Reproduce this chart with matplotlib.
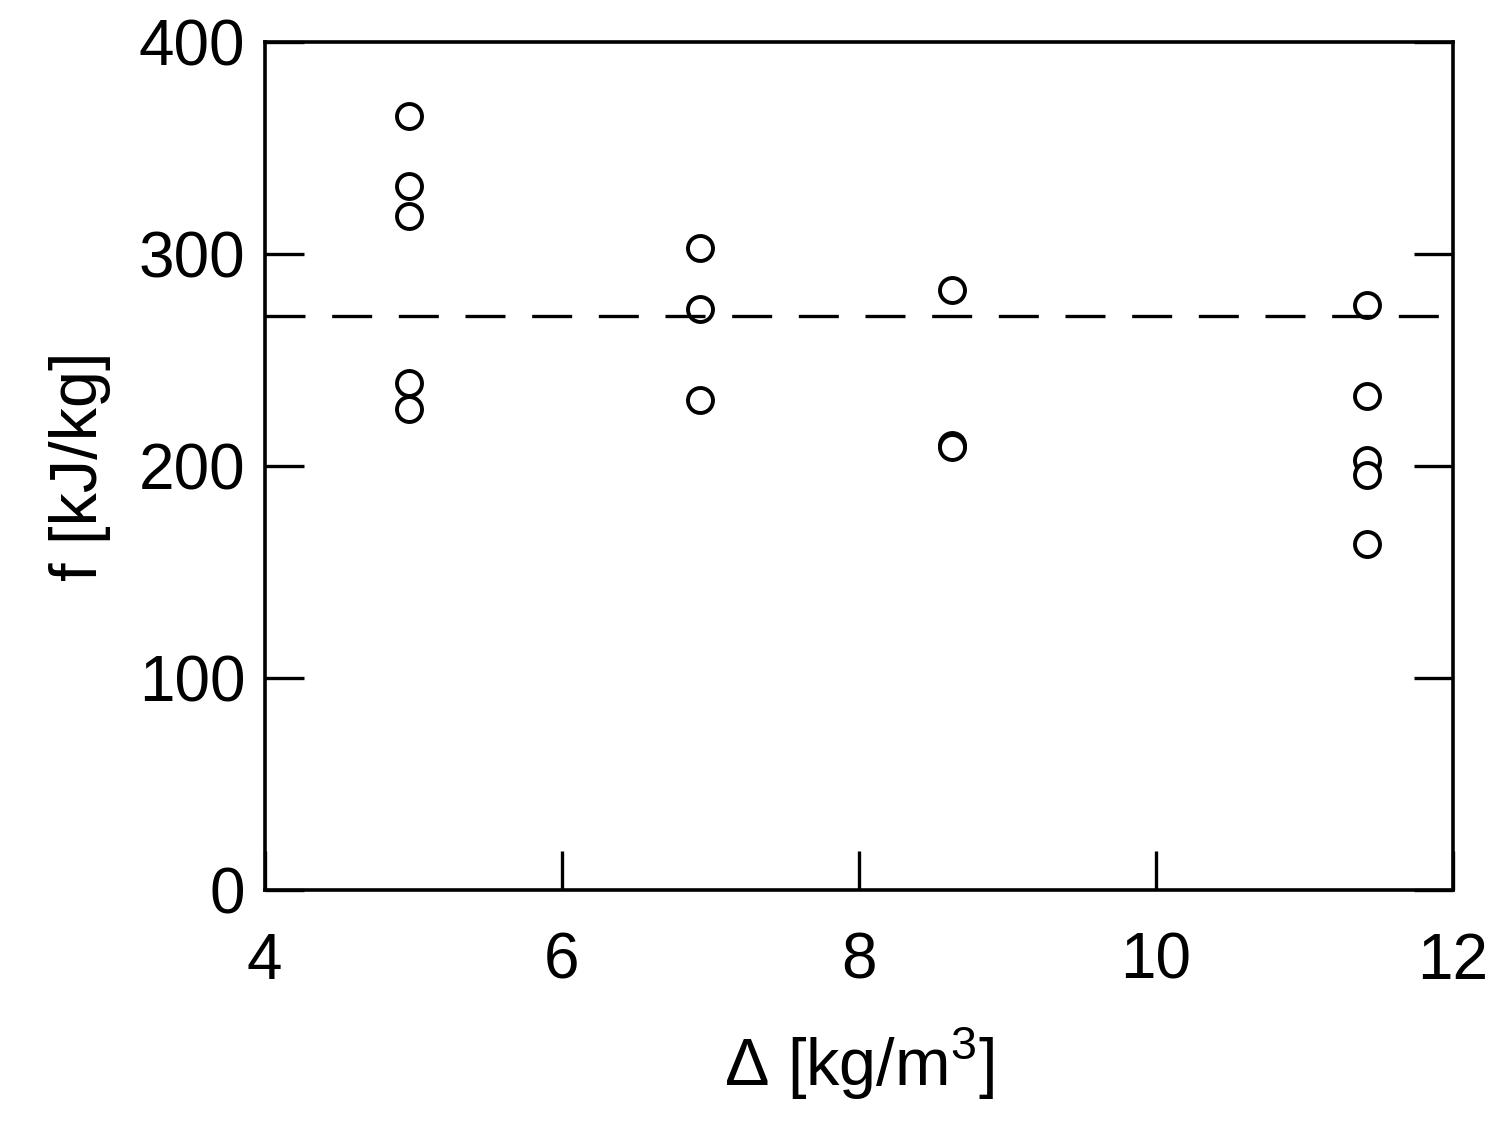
import matplotlib
matplotlib.use("Agg")
import matplotlib.pyplot as plt

plt.rcParams['font.family'] = ['Liberation Sans', 'DejaVu Sans']
plt.rcParams['mathtext.fontset'] = 'custom'
plt.rcParams['mathtext.rm'] = 'Liberation Sans'

x_vals = [4.97]*5 + [6.93]*3 + [8.63]*3 + [11.42]*5
y_vals = [365, 332, 318, 239, 227,
          303, 274, 231,
          283, 210, 209,
          276, 233, 203, 196, 163]
mean_line = 271

fig = plt.figure(figsize=(15.04, 11.48), dpi=100)
ax = fig.add_axes([0.176, 0.2247, 0.79, 0.7387])
ax.plot(x_vals, y_vals, 'o', mfc='white', mec='black', mew=2.8, ms=18)
ax.axhline(mean_line, color='black', lw=2.4, dashes=(12, 8))
ax.set_xlim(4, 12)
ax.set_ylim(0, 400)
ax.set_xticks([4, 6, 8, 10, 12])
ax.set_yticks([0, 100, 200, 300, 400])
ax.tick_params(direction='in', length=28, width=2.4, labelsize=46, pad=14,
               top=False, right=True)
ax.tick_params(axis='x', pad=30)
for s in ax.spines.values():
    s.set_linewidth(2.6)
ax.set_xlabel(r'$\Delta$ [kg/m$^3$]', fontsize=48, labelpad=24)
ax.set_ylabel('f [kJ/kg]', fontsize=48, labelpad=20)
fig.savefig('out.png', dpi=100)
